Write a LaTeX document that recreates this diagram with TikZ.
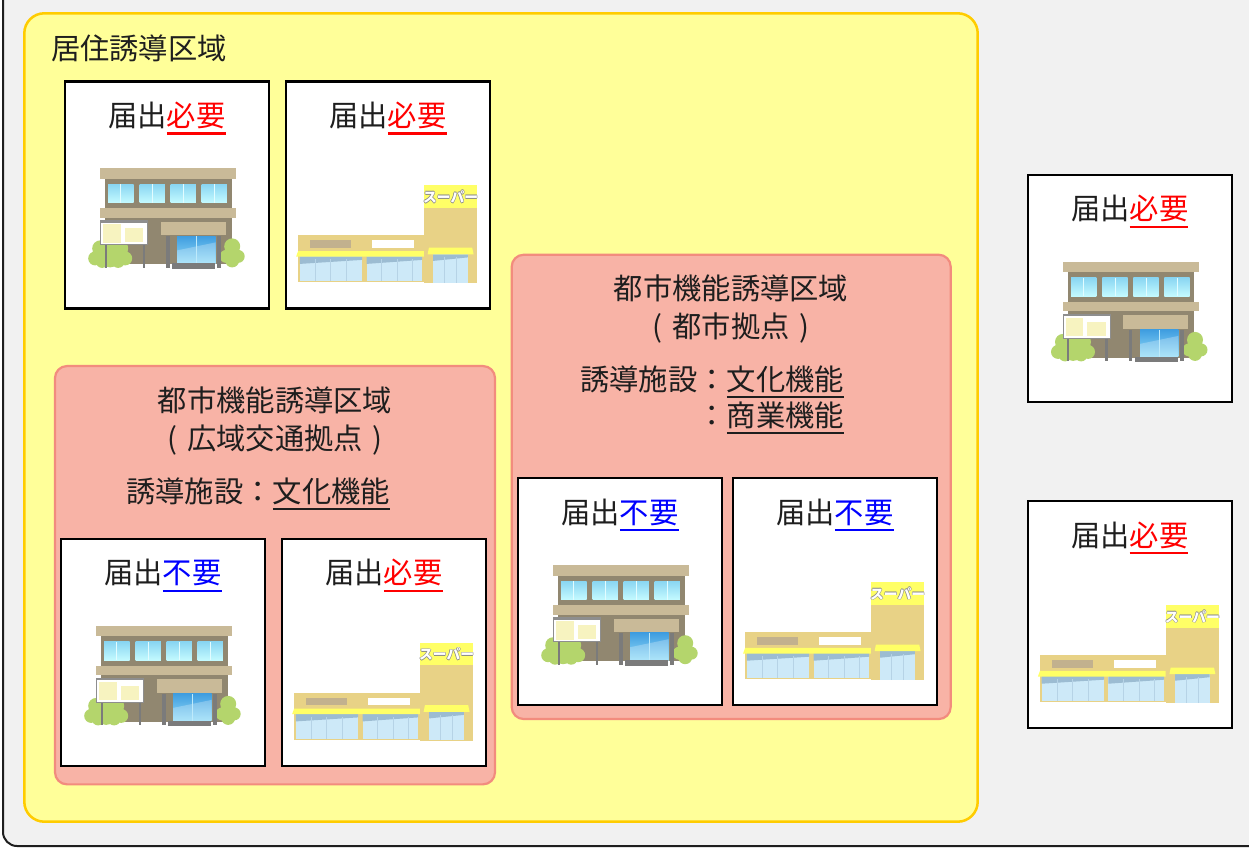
\documentclass[tikz,border=0pt]{standalone}
\usepackage{fontspec}
\setmainfont{Noto Sans CJK JP}

% palette
\definecolor{bgframe}{HTML}{F1F1F1}
\definecolor{frameedge}{HTML}{1E1E1E}
\definecolor{reszone}{HTML}{FFFF99}
\definecolor{resedge}{HTML}{FFCC00}
\definecolor{cityzone}{HTML}{F8B3A6}
\definecolor{cityedge}{HTML}{F28C7E}
\definecolor{ink}{HTML}{1E1E1E}
\definecolor{needred}{HTML}{FF0000}
\definecolor{freeblue}{HTML}{0000FF}
% office building
\definecolor{bldtan}{HTML}{C9BA98}
\definecolor{bldwall}{HTML}{918770}
\definecolor{bldgrey}{HTML}{7B7B7B}
\definecolor{winTop}{HTML}{8AD6F2}
\definecolor{winBot}{HTML}{C4FAFF}
\definecolor{winLine}{HTML}{E2FCFF}
\definecolor{doorTop}{HTML}{3F9DE0}
\definecolor{doorBot}{HTML}{92DCF8}
\definecolor{bush}{HTML}{B4D56C}
\definecolor{boardpanel}{HTML}{F7F3C0}
\definecolor{boardframe}{HTML}{8E8E8E}
% supermarket
\definecolor{marttan}{HTML}{E8D286}
\definecolor{martyellow}{HTML}{FFFF66}
\definecolor{martsign}{HTML}{C2B18E}
\definecolor{glassTop}{HTML}{9CBCD2}
\definecolor{glassBot}{HTML}{CDE9F8}
\definecolor{glassLine}{HTML}{B6D3E6}
\definecolor{signedge}{HTML}{8A8A8A}

\newcommand\jpsize{\fontsize{29.3}{35}\selectfont}
\newsavebox\ulbox
% text with a heavy underline in the current colour
\newcommand\markline[1]{\sbox\ulbox{#1}\rlap{\usebox\ulbox}\raisebox{-8.2pt}{\rule{\wd\ulbox}{2.2pt}}}
\newcommand\reqmark{{\color{needred}\markline{必要}}}
\newcommand\freemark{{\color{freeblue}\markline{不要}}}
% round brackets centred in a full-width cell
\newcommand\lpar{\makebox[29.3pt][c]{(}}
\newcommand\rpar{\makebox[29.3pt][c]{)}}
% white sign lettering with a thin grey edge
\newcommand\signtext[1]{%
  \makebox[0pt]{\color{signedge}\raisebox{0.6pt}{#1}}%
  \makebox[0pt]{\color{signedge}\raisebox{-0.6pt}{#1}}%
  \makebox[0pt]{\color{signedge}\hspace{1.2pt}#1}%
  \makebox[0pt]{\color{signedge}\hspace{-1.2pt}#1}%
  \makebox[0pt]{\color{white}#1}}

\tikzset{
  lbl/.style={font=\jpsize, text=ink, inner sep=0pt, outer sep=0pt, anchor=base},
  reszonebox/.style={draw=resedge, fill=reszone, line width=2.5pt, rounded corners=20pt,
    inner sep=0pt},
  cityzonebox/.style={draw=cityedge, fill=cityzone, line width=2.2pt, rounded corners=12pt,
    inner sep=0pt},
  card/.style={draw=black, fill=white, line width=2.2pt, minimum width=204pt,
    minimum height=227pt, inner sep=0pt},
  office/.pic={
    \fill[bldwall] (16.7,10) rectangle (143.4,96);
    \fill[bldtan] (12,0) rectangle (148,10.3);
    \fill[bldtan] (12,40) rectangle (148,49.3);
    \foreach \a in {20,51.4,82.4,113.4}{
      \shade[top color=winTop,bottom color=winBot] (\a,16) rectangle ++(25.3,18.3);
      \fill[winLine] (\a+12.2,16) rectangle ++(1,18.3);
    }
    \fill[bldtan] (72.4,53.3) rectangle (137.4,67);
    \shade[top color=doorTop,bottom color=doorBot] (89,67.7) rectangle (127.4,95);
    \fill[white, opacity=.25] (89,82) -- (127.4,74) -- (127.4,95) -- (89,95) -- cycle;
    \fill[doorBot!60!white] (107.7,67.7) rectangle (108.7,95);
    \fill[bldgrey] (84,95) rectangle (126.7,100.3);
    % shrubs
    \fill[bush] (7,90) circle (7) (12,80) circle (8) (22,77) circle (7) (32,80) circle (8)
      (37,90) circle (7) (22,89) circle (10) (14,93) circle (6.5) (30,93) circle (6.5);
    \fill[bush] (138,88) circle (6.5) (144,78) circle (8) (150,88) circle (6.5)
      (144,92) circle (7);
    \fill[bldgrey] (78,67.7) rectangle (81.4,99.3);
    \fill[bldgrey] (129,67.7) rectangle (132.7,99.3);
    % notice board
    \fill[bldgrey] (16.4,76) rectangle (18.4,99.3);
    \fill[bldgrey] (54.4,76) rectangle (56.7,99.3);
    \filldraw[fill=white, draw=boardframe, line width=1.2pt] (12.5,53) rectangle (59.5,76.2);
    \fill[boardframe] (11.7,52) rectangle (60,54.5);
    \fill[boardpanel] (15,56) rectangle (32.4,74.3);
    \fill[boardpanel] (36.4,60) rectangle (55,73.7);
  },
  market/.pic={
    \fill[marttan] (1.6,50) rectangle (127.8,96.7);
    \fill[marttan] (127.3,0) rectangle (180.6,98);
    \fill[martyellow] (127.3,0) rectangle (180.6,22.3);
    \node[inner sep=0pt, font=\bfseries\fontsize{13.8}{14}\selectfont] (-sign)
      at (154,11.5) {\signtext{スーパー}};
    \fill[martsign] (13.3,54.7) rectangle (54.6,62.3);
    \fill[white] (75.6,54.7) rectangle (117.3,62.3);
    \fill[glassBot] (3.3,71) rectangle (65.6,95.7);
    \fill[glassBot] (70,71) rectangle (125.6,95.7);
    \fill[glassTop] (3.3,71) -- (65.6,71) -- (65.6,74.5) -- (3.3,78.5) -- cycle;
    \fill[glassTop] (70,71) -- (125.6,71) -- (125.6,74.5) -- (70,78.5) -- cycle;
    \foreach \m in {19,34,50,85,101,116}
      \draw[glassLine, line width=.6pt] (\m,74) -- (\m,95.7);
    \fill[martyellow] (-0.5,71.3) -- (1.5,65.7) -- (127.3,65.7) -- (127.3,71.3) -- cycle;
    \fill[glassBot] (136.6,69) rectangle (171.3,97.3);
    \fill[glassTop] (136.6,69) -- (171.3,69) -- (171.3,72) -- (136.6,75.5) -- cycle;
    \foreach \m in {148,160}
      \draw[glassLine, line width=.6pt] (\m,72) -- (\m,97.3);
    \fill[martyellow] (132.3,62.3) -- (175.6,62.3) -- (177,69) -- (131,69) -- cycle;
  },
}

\begin{document}
\begin{tikzpicture}[x=1pt,y=-1pt]
\useasboundingbox (0,0) rectangle (1249,848);
\clip (0,0) rectangle (1249,848);
\fill[white] (0,0) rectangle (1249,848);

% outer panel
\draw[draw=frameedge, fill=bgframe, line width=2pt, rounded corners=14pt]
  (3,-40) rectangle (1300,846);

% residential guidance zone
\node[reszonebox, minimum width=953.4pt, minimum height=808.4pt] (res) at (501,417.5) {};
\node[lbl, anchor=base west] (restitle) at (51,60) {居住誘導区域};

% urban function zones
\node[cityzonebox, minimum width=440pt, minimum height=418.3pt] (zoneA) at (275,575.2) {};
\node[cityzonebox, minimum width=439pt, minimum height=464.3pt] (zoneB) at (731.2,486.9) {};

\node[lbl] (zoneAt1) at (275,411) {都市機能誘導区域};
\node[lbl] (zoneAt2) at (275,449) {\lpar 広域交通拠点\rpar};
\node[lbl, anchor=base east] (zoneAt3) at (390,502) {誘導施設：\markline{文化機能}};

\node[lbl] (zoneBt1) at (731,299) {都市機能誘導区域};
\node[lbl] (zoneBt2) at (731,337) {\lpar 都市拠点\rpar};
\node[lbl, anchor=base east] (zoneBt3) at (844,390) {誘導施設：\markline{文化機能}};
\node[lbl, anchor=base east] (zoneBt4) at (844,426) {：\markline{商業機能}};

% facility cards
\node[card] (cA1) at (167,195) {};
\node[card] (cA2) at (388,195) {};
\node[card] (cB1) at (163,652.5) {};
\node[card] (cB2) at (384,652.5) {};
\node[card] (cC1) at (620,591.8) {};
\node[card] (cC2) at (835,591.8) {};
\node[card] (cD1) at (1129.8,288.5) {};
\node[card] (cD2) at (1129.8,614.8) {};

\node[lbl] (cA1t) at ([shift={(103,46)}]cA1.north west) {届出\reqmark};
\node[lbl] (cA2t) at ([shift={(103,46)}]cA2.north west) {届出\reqmark};
\node[lbl] (cB1t) at ([shift={(103,46)}]cB1.north west) {届出\freemark};
\node[lbl] (cB2t) at ([shift={(103,46)}]cB2.north west) {届出\reqmark};
\node[lbl] (cC1t) at ([shift={(103,46)}]cC1.north west) {届出\freemark};
\node[lbl] (cC2t) at ([shift={(103,46)}]cC2.north west) {届出\freemark};
\node[lbl] (cD1t) at ([shift={(103,46)}]cD1.north west) {届出\reqmark};
\node[lbl] (cD2t) at ([shift={(103,46)}]cD2.north west) {届出\reqmark};

\pic (oA1) at ([shift={(24.3,88)}]cA1.north west) {office};
\pic (oB1) at ([shift={(24.3,88)}]cB1.north west) {office};
\pic (oC1) at ([shift={(24.3,88)}]cC1.north west) {office};
\pic (oD1) at ([shift={(24.3,88)}]cD1.north west) {office};

\pic (mA2) at ([shift={(11.7,105)}]cA2.north west) {market};
\pic (mB2) at ([shift={(11.7,105)}]cB2.north west) {market};
\pic (mC2) at ([shift={(11.7,105)}]cC2.north west) {market};
\pic (mD2) at ([shift={(11.7,105)}]cD2.north west) {market};
\end{tikzpicture}
\end{document}
